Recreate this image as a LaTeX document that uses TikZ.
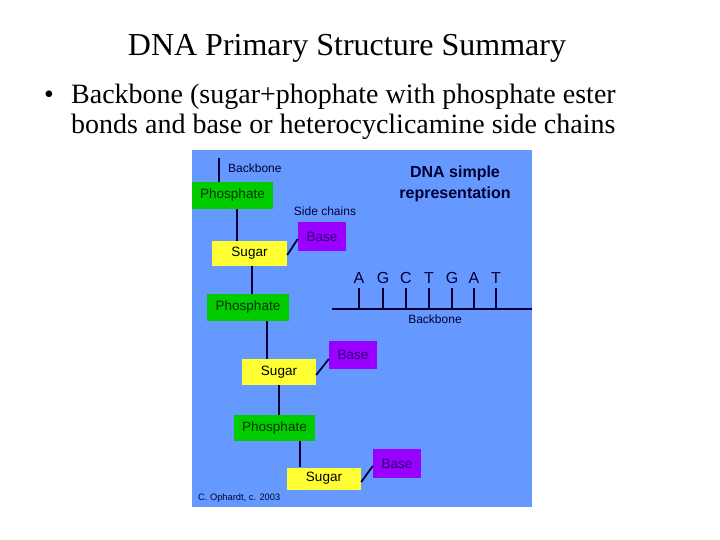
\documentclass[tikz,border=0pt]{standalone}
\usepackage{fontspec}
\setmainfont{Liberation Serif}
\newfontfamily\arialfont{Liberation Sans}
\usetikzlibrary{calc}

\definecolor{panelblue}{RGB}{102,153,255}
\definecolor{phosgreen}{RGB}{0,204,0}
\definecolor{sugaryellow}{RGB}{255,255,51}
\definecolor{basepurple}{RGB}{153,0,255}
\definecolor{navy}{RGB}{0,0,51}

\begin{document}
\begin{tikzpicture}[
  x=1pt, y=-1pt,
  box/.style={inner sep=0pt, font=\arialfont\fontsize{13.5}{16}\selectfont},
  phos/.style={box, fill=phosgreen, text=black!80!green, minimum width=81pt, minimum height=27pt},
  sugar/.style={box, fill=sugaryellow, text=black, minimum width=75pt, minimum height=25pt},
  base/.style={box, fill=basepurple, text=navy!70!basepurple, minimum width=48pt, minimum height=29pt},
  bond/.style={navy, line width=1.8pt},
  note/.style={text=navy, inner sep=0pt, font=\arialfont\fontsize{12}{14}\selectfont},
]
\useasboundingbox[fill=white] (0,0) rectangle (720,540);
% heading and bullet text
\node[anchor=base, font=\fontsize{32}{36}\selectfont] (title) at (347,56) {DNA Primary Structure Summary};
\node[anchor=base west, inner sep=0pt, font=\fontsize{28}{30}\selectfont] (dot) at (44,104) {\textbullet};
\node[anchor=base west, inner sep=0pt, font=\fontsize{28}{30}\selectfont] (line1) at (71,104) {Backbone (sugar+phophate with phosphate ester};
\node[anchor=base west, inner sep=0pt, font=\fontsize{28}{30}\selectfont] (line2) at (71,134) {bonds and base or heterocyclicamine side chains};
% blue panel
\fill[panelblue] (192,150) rectangle (532,507);
% chain boxes
\node[phos] (p1) at (232.5,195.5) {Phosphate};
\node[sugar] (s1) at (249.5,253.5) {Sugar};
\node[base] (b1) at (322,236.5) {Base};
\node[phos, minimum width=82pt] (p2) at (248,307.5) {Phosphate};
\node[sugar, minimum width=74pt, minimum height=26pt] (s2) at (279,372) {Sugar};
\node[base, minimum height=28pt] (b2) at (353,355) {Base};
\node[phos, minimum height=26pt] (p3) at (274.5,428) {Phosphate};
\node[sugar, minimum width=74pt, minimum height=22pt] (s3) at (324,478.5) {Sugar};
\node[base] (b3) at (397,463.5) {Base};
% backbone bonds
\coordinate (bbtop) at (219,158);
\draw[bond] (bbtop) -- (bbtop |- p1.north);
\draw[bond] ([xshift=4.5pt]p1.south) -- ([xshift=4.5pt]p1.south |- s1.north);
\draw[bond] ([xshift=2.5pt]s1.south) -- ([xshift=2.5pt]s1.south |- p2.north);
\draw[bond] ([xshift=19pt]p2.south) -- ([xshift=19pt]p2.south |- s2.north);
\draw[bond] (s2.south) -- (s2.south |- p3.north);
\draw[bond] ([xshift=25.5pt]p3.south) -- ([xshift=25.5pt]p3.south |- s3.north);
% side chain bonds
\draw[bond] ([yshift=-1.5pt]s1.east) -- ([yshift=-2.5pt]b1.west);
\draw[bond] ([yshift=-3pt]s2.east) -- ([yshift=-4pt]b2.west);
\draw[bond] ([yshift=-3.5pt]s3.east) -- ([yshift=-2.5pt]b3.west);
% labels
\node[note, anchor=west] (bblabel) at (228,168) {Backbone};
\node[note] (sclabel) at (325,211) {Side chains};
\node[note, align=center, font=\arialfont\bfseries\fontsize{16}{21}\selectfont] (simple) at (455,183.5) {DNA simple\\representation};
% simple representation
\coordinate (bl) at (332,309);
\coordinate (br) at (532,309);
\draw[bond] (bl) -- (br);
\foreach \ch/\px [count=\i] in {A/359,G/383,C/406,T/429,G/452,A/474,T/496} {
  \node[note, font=\arialfont\fontsize{16}{18}\selectfont] (nt\i) at (\px,278) {\ch};
  \draw[bond] ([yshift=-4pt]nt\i.south) -- (nt\i.south |- bl);
}
\node[note] (bblabel2) at (435,319) {Backbone};
\node[note, anchor=west, font=\arialfont\fontsize{9.3}{11}\selectfont] (credit) at (198,498) {C. Ophardt, c. 2003};
\end{tikzpicture}
\end{document}
